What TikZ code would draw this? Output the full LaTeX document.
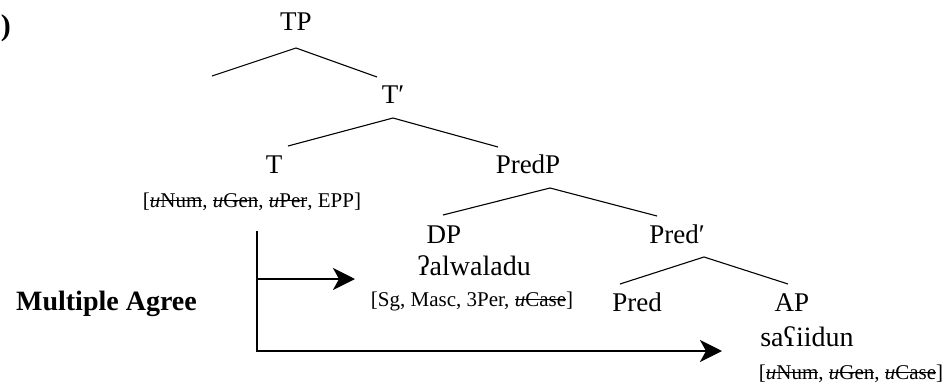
\documentclass[tikz,border=0pt]{standalone}
\usepackage{fontspec}
\setmainfont{Liberation Serif}
\usetikzlibrary{arrows.meta}
\newsavebox{\strkbox}
\newcommand{\unf}[1]{\sbox{\strkbox}{\textit{u}#1}\rlap{\rule[0.27em]{\wd\strkbox}{0.06em}}\usebox{\strkbox}}
\tikzset{
  lab/.style={font=\fontsize{27}{27}\selectfont, inner sep=0pt, anchor=base},
  lex/.style={font=\fontsize{28}{28}\selectfont, inner sep=0pt, anchor=base},
  feat/.style={font=\fontsize{21}{21}\selectfont, inner sep=0pt, anchor=base},
  branch/.style={line width=1.1pt},
  agree/.style={line width=2.6pt},
  agreearrow/.style={agree, -{Stealth[length=22pt,width=22pt,inset=6pt]}},
}
\begin{document}
\begin{tikzpicture}[x=1pt,y=-1pt]
\useasboundingbox (0,0) rectangle (946,386);
% example number remnant
\node[lab, font=\fontsize{30}{30}\selectfont\bfseries, anchor=base east] (exnum) at (11,35) {)};
% tree labels
\node[lab] (TP) at (296,30) {TP};
\node[lab] (Tbar) at (393,103) {T′};
\node[lab] (T) at (274,173) {T};
\node[lab] (PredP) at (528,173) {PredP};
\node[lab] (DP) at (444,243) {DP};
\node[lab] (Predbar) at (677,243) {Pred′};
\node[lab] (Pred) at (637,311) {Pred};
\node[lab] (AP) at (792,311) {AP};
% lexical items
\node[lex] (DPw) at (474,275) {ʔalwaladu};
\node[lex] (APw) at (807,346) {saʕiidun};
% feature bundles
\node[feat] (Tf) at (252,207) {[\unf{Num}, \unf{Gen}, \unf{Per}, EPP]};
\node[feat] (DPf) at (472,306) {[Sg, Masc, 3Per, \unf{Case}]};
\node[feat] (APf) at (851,379) {[\unf{Num}, \unf{Gen}, \unf{Case}]};
% label
\node[lab, font=\fontsize{28}{28}\selectfont\bfseries, anchor=base east] (MA) at (197,310) {Multiple Agree};
% branch points
\coordinate (spec) at (212,76);
\coordinate (TPb) at (296,48);
\coordinate (Tbart) at (377,77);
\coordinate (Tbarb) at (393,118);
\coordinate (Tt) at (288,146);
\coordinate (PredPt) at (498,147);
\coordinate (PredPb) at (550,188);
\coordinate (DPt) at (443,215);
\coordinate (Predbart) at (657,216);
\coordinate (Predbarb) at (704,257);
\coordinate (Predt) at (620,284);
\coordinate (APt) at (788,284);
\draw[branch] (spec) -- (TPb) -- (Tbart);
\draw[branch] (Tt) -- (Tbarb) -- (PredPt);
\draw[branch] (DPt) -- (PredPb) -- (Predbart);
\draw[branch] (Predt) -- (Predbarb) -- (APt);
% agree arrows
\coordinate (vtop) at (257,232);
\coordinate (vmid) at (257,279);
\coordinate (vbot) at (257,351);
\coordinate (tipDP) at (355,279);
\coordinate (tipAP) at (722,351);
\draw[agree, line cap=rect] (vtop) -- (vbot);
\draw[agreearrow] (vmid) -- (tipDP);
\draw[agreearrow] (vbot) -- (tipAP);
\end{tikzpicture}
\end{document}
